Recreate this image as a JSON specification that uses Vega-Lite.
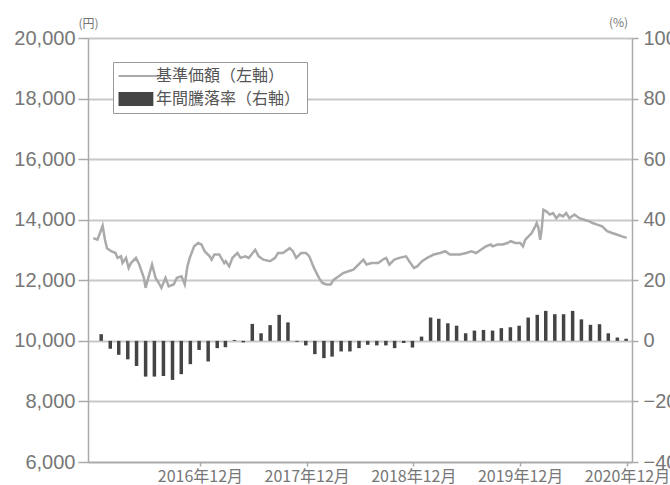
{
  "$schema": "https://vega.github.io/schema/vega-lite/v6.json",
  "width": 544,
  "height": 424,
  "autosize": {"type": "none"},
  "padding": {"left": 88, "top": 38, "right": 38, "bottom": 23},
  "background": "#ffffff",
  "config": {"view": {"stroke": null}},
  "datasets": {
    "ret": [
      {"d":"2016-01-28","r":2.2},{"d":"2016-02-28","r":-2.6},{"d":"2016-03-28","r":-4.6},{"d":"2016-04-28","r":-6.1},
      {"d":"2016-05-28","r":-8.3},{"d":"2016-06-28","r":-11.8},{"d":"2016-07-28","r":-11.8},{"d":"2016-08-28","r":-11.6},
      {"d":"2016-09-28","r":-12.9},{"d":"2016-10-28","r":-11.0},{"d":"2016-11-28","r":-7.7},{"d":"2016-12-28","r":-3.0},
      {"d":"2017-01-28","r":-6.8},{"d":"2017-02-28","r":-2.4},{"d":"2017-03-28","r":-2.1},{"d":"2017-04-28","r":0.3},
      {"d":"2017-05-28","r":-0.5},{"d":"2017-06-28","r":5.6},{"d":"2017-07-28","r":2.5},{"d":"2017-08-28","r":5.2},
      {"d":"2017-09-28","r":8.6},{"d":"2017-10-28","r":6.1},{"d":"2017-11-28","r":-0.3},{"d":"2017-12-28","r":-1.5},
      {"d":"2018-01-28","r":-4.4},{"d":"2018-02-28","r":-5.7},{"d":"2018-03-28","r":-5.2},{"d":"2018-04-28","r":-3.5},
      {"d":"2018-05-28","r":-3.5},{"d":"2018-06-28","r":-2.4},{"d":"2018-07-28","r":-1.3},{"d":"2018-08-28","r":-1.5},
      {"d":"2018-09-28","r":-1.5},{"d":"2018-10-28","r":-2.4},{"d":"2018-11-28","r":-0.7},{"d":"2018-12-28","r":-2.2},
      {"d":"2019-01-28","r":1.4},{"d":"2019-02-28","r":7.7},{"d":"2019-03-28","r":7.3},{"d":"2019-04-28","r":5.8},
      {"d":"2019-05-28","r":5.0},{"d":"2019-06-28","r":2.5},{"d":"2019-07-28","r":3.4},{"d":"2019-08-28","r":3.6},
      {"d":"2019-09-28","r":3.4},{"d":"2019-10-28","r":4.2},{"d":"2019-11-28","r":4.5},{"d":"2019-12-28","r":5.0},
      {"d":"2020-01-28","r":7.7},{"d":"2020-02-28","r":8.6},{"d":"2020-03-28","r":9.9},{"d":"2020-04-28","r":8.8},
      {"d":"2020-05-28","r":8.8},{"d":"2020-06-28","r":9.9},{"d":"2020-07-28","r":7.1},{"d":"2020-08-28","r":5.3},
      {"d":"2020-09-28","r":5.5},{"d":"2020-10-28","r":2.5},{"d":"2020-11-28","r":1.1},{"d":"2020-12-28","r":0.7}
    ],
    "nav": [
      {"d":"2016-01-01","v":13390},{"d":"2016-01-15","v":13340},{"d":"2016-01-24","v":13560},{"d":"2016-02-02","v":13800},
      {"d":"2016-02-10","v":13340},{"d":"2016-02-17","v":13060},{"d":"2016-03-02","v":12960},{"d":"2016-03-17","v":12900},
      {"d":"2016-03-24","v":12740},{"d":"2016-04-05","v":12790},{"d":"2016-04-10","v":12570},{"d":"2016-04-22","v":12740},
      {"d":"2016-05-01","v":12410},{"d":"2016-05-09","v":12570},{"d":"2016-05-26","v":12740},{"d":"2016-06-06","v":12520},
      {"d":"2016-06-22","v":12080},{"d":"2016-06-28","v":11750},{"d":"2016-07-07","v":12080},{"d":"2016-07-20","v":12520},
      {"d":"2016-08-01","v":12080},{"d":"2016-08-12","v":11910},{"d":"2016-08-21","v":11750},{"d":"2016-09-04","v":12080},
      {"d":"2016-09-15","v":11800},{"d":"2016-10-02","v":11860},{"d":"2016-10-13","v":12080},{"d":"2016-10-29","v":12130},
      {"d":"2016-11-09","v":11860},{"d":"2016-11-18","v":12460},{"d":"2016-11-26","v":12740},{"d":"2016-12-11","v":13120},
      {"d":"2016-12-25","v":13230},{"d":"2017-01-05","v":13180},{"d":"2017-01-16","v":12960},{"d":"2017-02-02","v":12790},
      {"d":"2017-02-09","v":12680},{"d":"2017-02-18","v":12850},{"d":"2017-03-07","v":12850},{"d":"2017-03-24","v":12570},
      {"d":"2017-03-29","v":12630},{"d":"2017-04-10","v":12460},{"d":"2017-04-21","v":12740},{"d":"2017-05-08","v":12900},
      {"d":"2017-05-19","v":12740},{"d":"2017-06-04","v":12790},{"d":"2017-06-16","v":12740},{"d":"2017-07-08","v":13010},
      {"d":"2017-07-20","v":12790},{"d":"2017-08-05","v":12680},{"d":"2017-08-28","v":12630},{"d":"2017-09-14","v":12740},
      {"d":"2017-09-24","v":12900},{"d":"2017-10-11","v":12900},{"d":"2017-11-03","v":13060},{"d":"2017-11-14","v":12960},
      {"d":"2017-11-25","v":12740},{"d":"2017-12-12","v":12900},{"d":"2017-12-29","v":12900},{"d":"2018-01-09","v":12790},
      {"d":"2018-01-25","v":12410},{"d":"2018-02-11","v":12080},{"d":"2018-02-23","v":11910},{"d":"2018-03-09","v":11860},
      {"d":"2018-03-23","v":11860},{"d":"2018-04-03","v":12020},{"d":"2018-04-20","v":12130},{"d":"2018-05-05","v":12240},
      {"d":"2018-05-23","v":12300},{"d":"2018-06-09","v":12350},{"d":"2018-06-15","v":12410},{"d":"2018-06-26","v":12520},
      {"d":"2018-07-13","v":12680},{"d":"2018-07-24","v":12520},{"d":"2018-08-10","v":12570},{"d":"2018-09-02","v":12570},
      {"d":"2018-09-17","v":12680},{"d":"2018-09-29","v":12740},{"d":"2018-10-10","v":12520},{"d":"2018-10-27","v":12680},
      {"d":"2018-11-13","v":12740},{"d":"2018-12-06","v":12790},{"d":"2018-12-17","v":12630},{"d":"2019-01-02","v":12410},
      {"d":"2019-01-13","v":12460},{"d":"2019-01-30","v":12630},{"d":"2019-02-16","v":12740},{"d":"2019-03-11","v":12850},
      {"d":"2019-04-02","v":12900},{"d":"2019-04-19","v":12960},{"d":"2019-05-05","v":12850},{"d":"2019-05-22","v":12850},
      {"d":"2019-06-08","v":12850},{"d":"2019-06-30","v":12900},{"d":"2019-07-17","v":12960},{"d":"2019-08-03","v":12900},
      {"d":"2019-08-19","v":13010},{"d":"2019-09-05","v":13120},{"d":"2019-09-22","v":13180},{"d":"2019-09-28","v":13120},
      {"d":"2019-10-15","v":13180},{"d":"2019-11-01","v":13180},{"d":"2019-11-18","v":13230},{"d":"2019-11-29","v":13290},
      {"d":"2019-12-15","v":13230},{"d":"2020-01-01","v":13230},{"d":"2020-01-10","v":13120},{"d":"2020-01-18","v":13340},
      {"d":"2020-01-29","v":13450},{"d":"2020-02-09","v":13560},{"d":"2020-02-21","v":13780},{"d":"2020-02-26","v":13890},
      {"d":"2020-03-03","v":13730},{"d":"2020-03-09","v":13340},{"d":"2020-03-14","v":13670},{"d":"2020-03-20","v":14330},
      {"d":"2020-03-31","v":14270},{"d":"2020-04-11","v":14170},{"d":"2020-04-22","v":14220},{"d":"2020-05-03","v":14050},
      {"d":"2020-05-14","v":14170},{"d":"2020-05-26","v":14110},{"d":"2020-06-06","v":14220},{"d":"2020-06-17","v":14050},
      {"d":"2020-07-04","v":14170},{"d":"2020-07-21","v":14050},{"d":"2020-08-06","v":14000},{"d":"2020-08-23","v":13950},
      {"d":"2020-09-04","v":13890},{"d":"2020-09-20","v":13840},{"d":"2020-10-07","v":13780},{"d":"2020-10-24","v":13620},
      {"d":"2020-11-10","v":13560},{"d":"2020-11-26","v":13510},{"d":"2020-12-13","v":13450},{"d":"2020-12-30","v":13400}
    ]
  },
  "layer": [
    {
      "data": {"name": "ret"},
      "mark": {"type": "bar", "width": 3.5, "color": "#444444"},
      "encoding": {
        "x": {
          "field": "d", "type": "temporal",
          "scale": {"domain": [{"year": 2015, "month": 12, "date": 31, "utc": true}, {"year": 2020, "month": 12, "date": 31, "utc": true}]},
          "axis": {
            "title": null,
            "values": [
              {"year": 2016, "month": 12, "date": 31, "utc": true},
              {"year": 2017, "month": 12, "date": 31, "utc": true},
              {"year": 2018, "month": 12, "date": 31, "utc": true},
              {"year": 2019, "month": 12, "date": 31, "utc": true},
              {"year": 2020, "month": 12, "date": 31, "utc": true}
            ],
            "labelExpr": "utcFormat(datum.value, '%Y年%m月')",
            "grid": false,
            "domainColor": "#aaaaaa", "domainWidth": 1.5,
            "tickColor": "#aaaaaa", "tickSize": 4, "tickWidth": 1.5,
            "labelFont": "Noto Sans CJK JP", "labelFontSize": 16, "labelColor": "#777777",
            "labelPadding": 2, "labelFlush": false, "labelOverlap": false
          }
        },
        "y": {
          "field": "r", "type": "quantitative",
          "scale": {"domain": [-40, 100], "nice": false, "zero": false},
          "axis": {
            "orient": "right", "title": "(%)", "values": [-40, -20, 0, 20, 40, 60, 80, 100],
            "grid": false,
            "domainColor": "#aaaaaa", "domainWidth": 1.5,
            "tickColor": "#aaaaaa", "tickSize": 6, "tickWidth": 1.5,
            "labelFont": "Liberation Sans", "labelFontSize": 20, "labelColor": "#777777", "labelPadding": 5,
            "labelFlush": false, "labelOverlap": false,
            "titleAngle": 0, "titleX": -14, "titleY": -12, "titleAlign": "center", "titleBaseline": "alphabetic",
            "titleFont": "Noto Sans CJK JP", "titleFontSize": 12, "titleFontWeight": "normal", "titleColor": "#777777"
          }
        },
        "color": {
          "datum": "年間騰落率（右軸）",
          "scale": {"domain": ["基準価額（左軸）", "年間騰落率（右軸）"], "range": ["#aaaaaa", "#444444"]},
          "legend": {
            "orient": "none", "legendX": 25, "legendY": 24,
            "title": null,
            "symbolSize": 289,
            "labelOffset": 21,
            "labelFont": "Noto Sans CJK JP", "labelFontSize": 16, "labelColor": "#555555",
            "rowPadding": 7,
            "padding": 6,
            "strokeColor": "#999999", "fillColor": "#ffffff",
            "encode": {
              "symbols": {
                "update": {
                  "shape": {"signal": "datum.value === '基準価額（左軸）' ? 'M-1,0H3.7' : 'M-1,-0.82H3.1V0.82H-1Z'"},
                  "fill": {"signal": "datum.value === '基準価額（左軸）' ? 'transparent' : '#444444'"},
                  "stroke": {"signal": "datum.value === '基準価額（左軸）' ? '#aaaaaa' : '#444444'"},
                  "strokeWidth": {"signal": "datum.value === '基準価額（左軸）' ? 2 : 0"},
                  "opacity": {"value": 1}
                }
              }
            }
          }
        }
      }
    },
    {
      "data": {"name": "nav"},
      "mark": {"type": "line", "strokeWidth": 2.5, "color": "#aaaaaa"},
      "encoding": {
        "x": {"field": "d", "type": "temporal"},
        "y": {
          "field": "v", "type": "quantitative",
          "scale": {"domain": [6000, 20000], "nice": false, "zero": false},
          "axis": {
            "orient": "left", "title": "(円)", "values": [6000, 8000, 10000, 12000, 14000, 16000, 18000, 20000],
            "format": ",d",
            "grid": true, "gridColor": "#c8c8c8", "gridWidth": 1.8,
            "domainColor": "#aaaaaa", "domainWidth": 1.5,
            "tickColor": "#aaaaaa", "tickSize": 10, "tickWidth": 1.5,
            "labelFont": "Liberation Sans", "labelFontSize": 20, "labelColor": "#777777", "labelPadding": 3,
            "labelFlush": false, "labelOverlap": false,
            "titleAngle": 0, "titleX": 0, "titleY": -11, "titleAlign": "center", "titleBaseline": "alphabetic",
            "titleFont": "Noto Sans CJK JP", "titleFontSize": 12, "titleFontWeight": "normal", "titleColor": "#777777"
          }
        },
        "color": {"datum": "基準価額（左軸）"}
      }
    }
  ],
  "resolve": {"scale": {"y": "independent"}}
}
